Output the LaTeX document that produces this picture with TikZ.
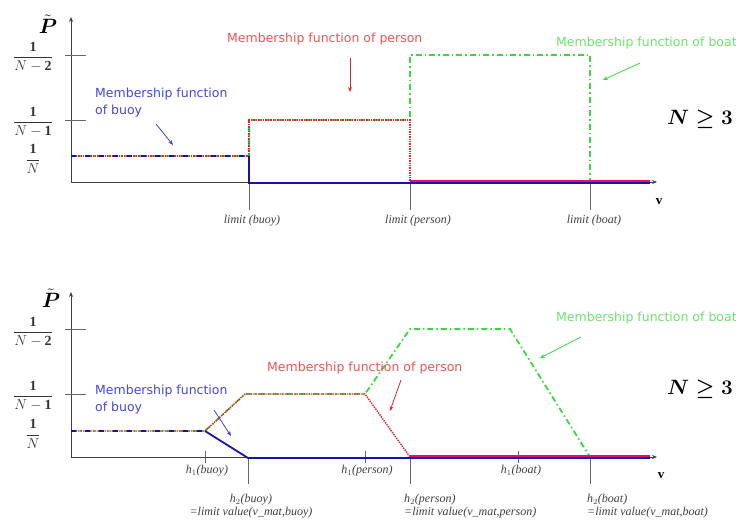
\documentclass[tikz,border=0pt]{standalone}
\usepackage{fontspec}
\setmainfont{Liberation Serif}
\setsansfont{DejaVu Sans}
\usetikzlibrary{arrows.meta}
\definecolor{buoyblue}{RGB}{20,20,170}
\definecolor{personred}{RGB}{220,40,40}
\definecolor{boatgreen}{RGB}{60,215,60}
\definecolor{buoytext}{RGB}{70,70,225}
\definecolor{persontext}{RGB}{235,85,85}
\definecolor{boattext}{RGB}{110,225,110}
\newcommand{\probsym}{$\tilde{\boldsymbol{P}}$}
\usepackage{amsmath,amssymb}
\begin{document}
\begin{tikzpicture}[x=1pt,y=-1pt,>={Stealth[length=5pt,width=4pt]}]
	\tikzstyle{axis}=[line width=0.8pt,black!75,->]
	\tikzstyle{tickline}=[line width=0.6pt,black!60]
	\tikzstyle{ticklbl}=[font=\itshape\fontsize{12}{13}\selectfont,black!75,inner sep=1pt]
	\tikzstyle{fraclbl}=[font=\fontsize{14}{15}\selectfont,black!80,inner sep=0pt]
	\tikzstyle{biglbl}=[font=\fontsize{21}{21}\selectfont,inner sep=0pt]
	\tikzstyle{mflbl}=[font=\sffamily\fontsize{12.5}{17}\selectfont,align=left,anchor=west,inner sep=0pt]
	\tikzstyle{buoyfn}=[buoyblue,line width=1.8pt]
	\tikzstyle{personfn}=[personred,densely dotted,line width=1.4pt]
	\tikzstyle{boatfn}=[boatgreen,dash pattern=on 6pt off 3pt on 1.5pt off 3pt,line width=1.8pt]
	\useasboundingbox (0,0) rectangle (736,525);

	% upper plot: crisp limits
	\coordinate (o1) at (71,182);
	\coordinate (ytop1) at (71,17);
	\coordinate (xend1) at (657,182);
	\draw[axis] (o1) -- (ytop1);
	\draw[axis] (o1) -- (xend1);
	\foreach \yy in {55,120}
		\draw[tickline] (65,\yy) -- (86,\yy);
	\foreach \xx in {249,410,590}
		\draw[tickline] (\xx,182) -- (\xx,210);

	\node[biglbl] (ptil1) at (48,24) {\probsym};
	\node[fraclbl] (f21) at (33,57) {$\dfrac{\mathbf{1}}{N-\mathbf{2}}$};
	\node[fraclbl] (f11) at (33,122) {$\dfrac{\mathbf{1}}{N-\mathbf{1}}$};
	\node[fraclbl] (f01) at (33,159) {$\dfrac{\mathbf{1}}{N}$};
	\node[font=\bfseries\fontsize{13}{13}\selectfont] (v1) at (659,202) {v};
	\node[biglbl] (n1) at (700,119) {$\boldsymbol{N \geq 3}$};

	\node[ticklbl] (lb1) at (252,221) {limit (buoy)};
	\node[ticklbl] (lp1) at (418,221) {limit (person)};
	\node[ticklbl] (lt1) at (594,221) {limit (boat)};

	% membership functions
	\draw[boatfn] (71,156) -- (249,156) -- (249,120) -- (410,120) -- (410,55) -- (590,55) -- (590,182) -- (632,182);
	\draw[personfn] (71,156) -- (249,156) -- (249,120) -- (410,120) -- (410,182);
	\draw[buoyfn,dash pattern=on 5pt off 9pt] (71,156) -- (249,156);
	\draw[magenta!70!red,line width=1.2pt] (410,181) -- (650,181);
	\draw[buoyfn] (249,156) -- (249,183) -- (650,183);

	\node[mflbl,text=persontext] (mp1) at (227,39) {Membership function of person};
	\node[mflbl,text=boattext] (mt1) at (556,43) {Membership function of boat};
	\node[mflbl,text=buoytext] (mb1) at (95,103) {Membership function\\of buoy};
	\coordinate (ap1) at (350,92);
	\coordinate (at1) at (603,80);
	\coordinate (ab1) at (173,145);
	\draw[->,personred,line width=0.8pt] (350,58) -- (ap1);
	\draw[->,boatgreen,line width=0.8pt] (640,63) -- (at1);
	\draw[->,buoyblue!80,line width=0.8pt] (156,124) -- (ab1);

	% lower plot: fuzzy limits
	\coordinate (o2) at (71,457);
	\coordinate (ytop2) at (71,292);
	\coordinate (xend2) at (657,457);
	\draw[axis] (o2) -- (ytop2);
	\draw[axis] (o2) -- (xend2);
	\foreach \yy in {329,394}
		\draw[tickline] (65,\yy) -- (86,\yy);
	\foreach \xx in {205,365,518}
		\draw[tickline] (\xx,451) -- (\xx,463);
	\foreach \xx in {248,410,590}
		\draw[tickline] (\xx,457) -- (\xx,484);

	\node[biglbl] (ptil2) at (51,298) {\probsym};
	\node[fraclbl] (f22) at (33,332) {$\dfrac{\mathbf{1}}{N-\mathbf{2}}$};
	\node[fraclbl] (f12) at (33,396) {$\dfrac{\mathbf{1}}{N-\mathbf{1}}$};
	\node[fraclbl] (f02) at (33,434) {$\dfrac{\mathbf{1}}{N}$};
	\node[font=\bfseries\fontsize{13}{13}\selectfont] (v2) at (661,476) {v};
	\node[biglbl] (n2) at (700,389) {$\boldsymbol{N \geq 3}$};

	\node[ticklbl] (hb1) at (207,471) {h$_1$(buoy)};
	\node[ticklbl] (hp1) at (367,471) {h$_1$(person)};
	\node[ticklbl] (ht1) at (521,471) {h$_1$(boat)};
	\node[ticklbl,align=center] (hb2) at (251,506) {h$_2$(buoy)\\=limit value(v\_mat,buoy)};
	\node[ticklbl,align=left,anchor=west] (hp2) at (403,506) {h$_2$(person)\\=limit value(v\_mat,person)};
	\node[ticklbl,align=left,anchor=west] (ht2) at (586,506) {h$_2$(boat)\\=limit value(v\_mat,boat)};

	% membership functions
	\draw[boatfn] (71,431) -- (205,431) -- (245,394) -- (365,394) -- (410,329) -- (510,329) -- (590,457) -- (632,457);
	\draw[personfn] (71,431) -- (205,431) -- (245,394) -- (365,394) -- (410,457);
	\draw[buoyfn,dash pattern=on 5pt off 9pt] (71,431) -- (205,431);
	\draw[magenta!70!red,line width=1.2pt] (410,456) -- (650,456);
	\draw[buoyfn] (205,431) -- (248,458) -- (650,458);

	\node[mflbl,text=persontext] (mp2) at (267,368) {Membership function of person};
	\node[mflbl,text=boattext] (mt2) at (556,318) {Membership function of boat};
	\node[mflbl,text=buoytext] (mb2) at (95,400) {Membership function\\of buoy};
	\coordinate (ap2) at (390,411);
	\coordinate (at2) at (540,358);
	\coordinate (ab2) at (231,436);
	\draw[->,personred,line width=0.8pt] (401,380) -- (ap2);
	\draw[->,boatgreen,line width=0.8pt] (581,337) -- (at2);
	\draw[->,buoyblue!80,line width=0.8pt] (214,410) -- (ab2);
\end{tikzpicture}
\end{document}
